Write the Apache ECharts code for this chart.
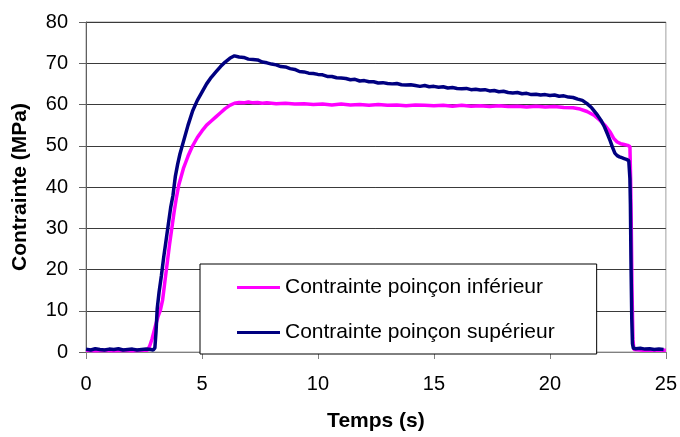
<!DOCTYPE html>
<html>
<head>
<meta charset="utf-8">
<script src="https://cdn.jsdelivr.net/npm/echarts@6/dist/echarts.min.js"></script>
<style>html,body{margin:0;padding:0;background:#fff}#c{width:680px;height:437px}</style>
</head>
<body>
<div id="c"></div>
<script>
// Time ticks
var xTicks = [0, 5, 10, 15, 20, 25];
var yTicks = [0, 10, 20, 30, 40, 50, 60, 70, 80];
var seriesNames = ["Contrainte poinçon inférieur", "Contrainte poinçon supérieur"];

// Contrainte poinçon inférieur
var tInf = [0,0.4,0.8,1.2,1.6,2.0,2.4,2.65,2.75,2.85,3.0,3.1,3.2,3.3,3.4,3.5,3.6,3.7,3.8,3.9,4.0,4.1,4.2,4.3,4.4,4.5,4.6,4.8,5.0,5.2,5.4,5.6,5.8,6.0,6.2,6.4,6.6,6.8,7.0,7.2,7.4,7.6,7.8,8.2,8.6,9.0,9.4,9.8,10.2,10.6,11.0,11.4,11.8,12.2,12.6,13.0,13.4,13.8,14.2,14.6,15.0,15.4,15.8,16.2,16.6,17.0,17.4,17.8,18.2,18.6,19.0,19.4,19.8,20.2,20.6,21.0,21.3,21.6,21.9,22.15,22.4,22.6,22.75,22.9,23.05,23.2,23.35,23.45,23.48,23.51,23.54,23.58,23.62,24.0,24.5,25.0];
var vInf = [0.4,0.3,0.4,0.3,0.4,0.3,0.4,0.4,1.5,3.2,6.5,8.5,10,12.5,17,21.5,26,30,34,37.5,40.5,42.5,44.5,46,47.5,48.8,50,52,53.6,55,56,57,58,59,59.8,60.3,60.5,60.4,60.6,60.4,60.5,60.3,60.4,60.2,60.3,60.1,60.2,60.0,60.1,59.9,60.1,59.9,60.0,59.8,60.0,59.8,59.9,59.7,59.9,59.8,59.7,59.8,59.6,59.8,59.6,59.7,59.5,59.7,59.5,59.6,59.4,59.6,59.4,59.5,59.3,59.2,58.9,58.3,57.4,56.2,54.8,53.3,51.8,50.9,50.5,50.3,50.1,49.8,42,30,15,3,0.6,0.4,0.5,0.4];

// Contrainte poinçon supérieur
var tSup = [0,0.2,0.4,0.6,0.8,1.0,1.2,1.4,1.6,1.8,2.0,2.2,2.4,2.6,2.8,2.9,2.97,3.02,3.07,3.15,3.25,3.35,3.45,3.55,3.65,3.75,3.85,3.95,4.05,4.2,4.4,4.6,4.8,5.0,5.2,5.4,5.6,5.8,6.0,6.2,6.4,6.6,6.8,7.0,7.2,7.4,7.6,7.8,8.0,8.2,8.4,8.6,8.8,9.0,9.2,9.4,9.6,9.8,10.0,10.2,10.4,10.6,10.8,11.0,11.2,11.4,11.6,11.8,12.0,12.2,12.4,12.6,12.8,13.0,13.2,13.4,13.6,13.8,14.0,14.2,14.4,14.6,14.8,15.0,15.2,15.4,15.6,15.8,16.0,16.2,16.4,16.6,16.8,17.0,17.2,17.4,17.6,17.8,18.0,18.2,18.4,18.6,18.8,19.0,19.2,19.4,19.6,19.8,20.0,20.2,20.4,20.6,20.8,21.0,21.2,21.4,21.6,21.8,22.0,22.2,22.35,22.5,22.6,22.7,22.8,22.9,23.0,23.1,23.2,23.3,23.4,23.45,23.47,23.5,23.53,23.56,23.6,23.7,23.9,24.1,24.3,24.5,24.7,24.9,25.0];
var vSup = [0.7,0.5,0.8,0.6,0.5,0.7,0.6,0.8,0.5,0.6,0.7,0.5,0.6,0.7,0.6,0.5,1.0,5,10.5,14.5,18.5,23,27,31,35,38,42.5,45.5,48,51,55,58.5,61,63,65,66.6,67.9,69.2,70.3,71.2,71.8,71.5,71.4,71,70.9,70.8,70.3,70.1,69.8,69.6,69.2,69.1,68.7,68.5,68.0,67.9,67.6,67.5,67.3,67.2,66.8,66.8,66.5,66.4,66.3,66.0,66.1,65.7,65.8,65.5,65.5,65.2,65.3,65.1,65.0,65.1,64.8,64.7,64.8,64.6,64.4,64.6,64.3,64.4,64.2,64.3,64.0,64.1,63.9,63.8,63.9,63.6,63.7,63.5,63.6,63.3,63.4,63.1,63.2,62.9,62.8,62.9,62.6,62.7,62.4,62.5,62.3,62.4,62.2,62.3,62.0,62.1,61.8,61.7,61.3,61.0,60.2,59.2,57.8,56.2,54.6,52.6,51.2,49.6,48.2,47.6,47.3,47.1,46.9,46.7,46.4,42,36,20,8,2,0.9,0.8,0.9,0.7,0.8,0.6,0.7,0.6];

function zip(t, v) { return t.map(function (x, i) { return [x, v[i]]; }); }

var chart = echarts.init(document.getElementById('c'), null, { renderer: 'canvas' });
var font = 'Liberation Sans, Arial, sans-serif';
chart.setOption({
  animation: false,
  backgroundColor: '#ffffff',
  textStyle: { fontFamily: font },
  grid: { left: 86, right: 14, top: 22, bottom: 84, show: true, borderColor: '#a0a0a0', borderWidth: 1, backgroundColor: 'transparent' },
  legend: {
    data: seriesNames,
    orient: 'vertical',
    left: 200, top: 264,
    backgroundColor: '#ffffff',
    borderColor: '#000000', borderWidth: 1,
    padding: [13, 42, 11, 37],
    itemGap: 24,
    itemWidth: 43, itemHeight: 3,
    icon: 'rect',
    textStyle: { fontFamily: font, fontSize: 21, color: '#000' }
  },
  xAxis: {
    type: 'value', min: xTicks[0], max: xTicks[xTicks.length - 1], interval: 5,
    name: 'Temps (s)', nameLocation: 'middle', nameGap: 59,
    nameTextStyle: { fontFamily: font, fontSize: 21, fontWeight: 'bold', color: '#000' },
    axisLine: { show: true, lineStyle: { color: '#808080', width: 1 } },
    axisTick: { show: true, inside: false, length: 7, lineStyle: { color: '#808080' } },
    axisLabel: { fontFamily: font, fontSize: 20, color: '#000', margin: 22 },
    splitLine: { show: false }
  },
  yAxis: {
    type: 'value', min: yTicks[0], max: yTicks[yTicks.length - 1], interval: 10,
    name: 'Contrainte (MPa)', nameLocation: 'middle', nameGap: 55,
    nameTextStyle: { fontFamily: font, fontSize: 21, fontWeight: 'bold', color: '#000' },
    axisLine: { show: true, lineStyle: { color: '#606060', width: 1 } },
    axisTick: { show: true, inside: false, length: 7, lineStyle: { color: '#606060' } },
    axisLabel: { fontFamily: font, fontSize: 20, color: '#000', margin: 18 },
    splitLine: { show: true, lineStyle: { color: '#3a3a3a', width: 1 } }
  },
  series: [
    { name: seriesNames[0], type: 'line', data: zip(tInf, vInf), symbol: 'none', color: '#ff00ff', lineStyle: { color: '#ff00ff', width: 3.5 }, z: 2 },
    { name: seriesNames[1], type: 'line', data: zip(tSup, vSup), symbol: 'none', color: '#000080', lineStyle: { color: '#000080', width: 3.5 }, z: 3 }
  ]
});
</script>
</body>
</html>
